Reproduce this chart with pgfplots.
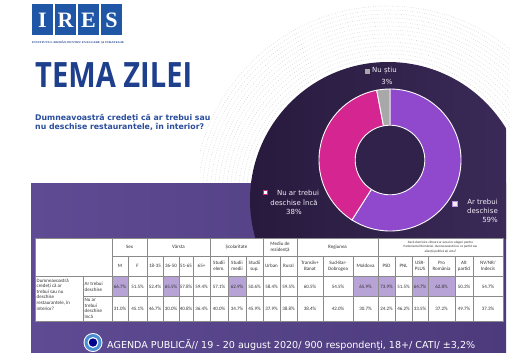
\documentclass[border=0pt]{standalone}
\usepackage{pgfplots}
\pgfplotsset{compat=1.18}
\usepackage{fontspec}
\setmainfont{Open Sans}
\newfontfamily\tabfont{Carlito}
\newfontfamily\logofont{Liberation Serif}
\newfontfamily\dvfont{DejaVu Sans}
\definecolor{iresblue}{HTML}{1F56A6}
\definecolor{titleblue}{HTML}{1E3F8C}
\definecolor{qblue}{HTML}{2A4D9C}
\definecolor{bandL}{HTML}{5E4B93}
\definecolor{bandR}{HTML}{4C3A7C}
\definecolor{darkL}{HTML}{271A3D}
\definecolor{darkR}{HTML}{3C2B5A}
\definecolor{sPurple}{HTML}{9048CC}
\definecolor{sMagenta}{HTML}{D42590}
\definecolor{sGray}{HTML}{A8A8A8}
\definecolor{hl}{HTML}{B8A3D7}
\definecolor{lbl}{HTML}{F2EEF8}
\definecolor{grid}{HTML}{8A8A8A}
\begin{document}
\begin{tikzpicture}
\begin{scope}[x=1pt,y=-1pt,yshift=360pt]
\fill[white] (0,0) rectangle (510,360);
% dotted background arcs
\begin{scope}
\clip (200,0) rectangle (510,183);
\foreach \r in {142,146,...,194}
  \draw[gray!35, line width=0.6pt, dash pattern=on 0.6pt off 1.8pt] (388,200) circle[radius=\r pt];
\end{scope}
% band
\shade[left color=bandL, right color=bandR] (31,183) rectangle (506,352);
% dark circle
\begin{scope}
\clip (0,0) rectangle (506,238);
\shade[left color=darkL, right color=darkR] (388,200) circle[radius=138pt];
\end{scope}
% logo
\foreach \x/\l in {32/I,55/R,78/E,101/S}{
  \fill[iresblue] (\x,4) rectangle (\x+21,35);
  \node[text=white, inner sep=0] at (\x+10.5,20) {\logofont\bfseries\fontsize{22}{22}\selectfont \l};
}
\node[anchor=west, inner sep=0, text=titleblue] at (32,42.5) {\resizebox{92pt}{2.4pt}{\logofont\bfseries INSTITUTUL ROMÂN PENTRU EVALUARE ȘI STRATEGIE}};
% title
\node[anchor=north west, inner sep=0, text=titleblue] at (35,62) {\resizebox{157pt}{25pt}{\bfseries TEMA ZILEI}};
\node[anchor=north west, inner sep=0, text=qblue, align=left, font=\dvfont\bfseries\fontsize{7.8}{9}\selectfont] at (35,114) {Dumneavoastră credeți că ar trebui sau\\nu deschise restaurantele, în interior?};
% table
\fill[white] (35,238) rectangle (503,321);
\begin{scope}[font=\tabfont\fontsize{5}{5.6}\selectfont, text=black!80, every node/.style={inner sep=0, align=center}]
% row 1
\foreach \a/\b/\v/\h in {112/128/66.7/1,128/147/51.5/0,147/163/52.4/0,163/179/65.5/1,179/193/57.8/0,193/210/59.4/0,210/228/57.1/0,228/246/62.9/1,246/263/50.6/0,263/280/58.4/0,280/297/59.5/0,297/323/60.5/0,323/353/54.5/0,353/378/65.9/1,378/395/73.9/1,395/412/51.5/0,412/428/64.7/1,428/455/62.8/1,455/473/50.3/0,473/503/54.7/0}{
  \ifnum\h=1 \fill[hl] (\a,276) rectangle (\b,296); \fi
  \node at ({(\a+\b)/2},286.5) {\v\%};
}
% row 2
\foreach \a/\b/\v in {112/128/31.0,128/147/45.1,147/163/46.7,163/179/30.0,179/193/40.8,193/210/36.4,210/228/40.0,228/246/34.7,246/263/45.9,263/280/37.9,280/297/38.8,297/323/38.4,323/353/42.0,353/378/30.7,378/395/24.2,395/412/46.2,412/428/33.5,428/455/37.2,455/473/49.7,473/503/37.3}{
  \node at ({(\a+\b)/2},308.5) {\v\%};
}
% header row 2
\foreach \a/\b/\t in {112/128/M,128/147/F,147/163/18-35,163/179/36-50,179/193/51-65,193/210/65+,210/228/{Studii\\elem.},228/246/{Studii\\medii},246/263/{Studii\\sup.},263/280/Urban,280/297/Rural,297/323/{Transilv+\\Banat},323/353/{Sud-Bar-\\Dobrogea},353/378/Moldova,378/395/PSD,395/412/PNL,412/428/{USR-\\PLUS},428/455/{Pro\\România},455/473/{Alt\\partid},473/503/{NV/NR/\\Indecis}}{
  \node at ({(\a+\b)/2},266) {\t};
}
% header row 1
\node at (129.5,247) {Sex};
\node at (178.5,247) {Vârsta};
\node at (236.5,247) {Școlaritate};
\node at (280,247) {Mediu de\\rezidență};
\node at (337.5,247) {Regiunea};
\node[font=\tabfont\fontsize{3.3}{4.2}\selectfont] at (440.5,247) {Dacă duminica viitoare ar avea loc alegeri pentru\\Parlamentul României, dumneavoastră cu ce partid sau\\alianță politică ați vota?};
% row labels
\node[anchor=north west, align=left] at (36.5,278.5) {Dumneavoastră\\credeți că ar\\trebui sau nu\\deschise\\restaurantele, în\\interior?};
\node[anchor=west, align=left] at (84.5,286.5) {Ar trebui\\deschise};
\node[anchor=west, align=left] at (84.5,308.5) {Nu ar\\trebui\\deschise\\încă};
\end{scope}
% grid
\begin{scope}[draw=grid, line width=0.35pt]
\draw (35,238) rectangle (503,321);
\draw (112,256) -- (503,256);
\draw (35,276) -- (503,276);
\draw (83,296) -- (503,296);
\draw (83,276) -- (83,321);
\foreach \x in {112,147,210,263,297,378} \draw (\x,238) -- (\x,321);
\foreach \x in {128,163,179,193,228,246,280,323,353,395,412,428,455,473} \draw (\x,256) -- (\x,321);
\end{scope}
% footer
\fill[white] (93,342.5) circle[radius=9.5pt];
\fill[cyan!55!blue!75] (93,342.5) circle[radius=8.5pt];
\fill[white] (93,342.5) circle[radius=5.5pt];
\fill[blue!55!black] (93,342.5) circle[radius=4.2pt];
\node[anchor=west, inner sep=0, text=white] at (107,344.5) {\resizebox{368pt}{!}{\dvfont AGENDA PUBLICĂ// 19 - 20 august 2020/ 900 respondenţi, 18+/ CATI/ ±3,2\%}};
\end{scope}

\begin{axis}[at={(390pt,200pt)}, anchor=center, scale only axis, width=142pt, height=142pt,
  xmin=-1, xmax=1, ymin=-1, ymax=1, hide axis, clip=false]
\addplot[draw=white, line width=0.9pt, fill=sPurple, domain=-122.4:90, samples=100, variable=\t] ({cos(\t)},{sin(\t)}) -- (0,0) -- cycle;
\addplot[draw=white, line width=0.9pt, fill=sMagenta, domain=100.8:237.6, samples=70, variable=\t] ({cos(\t)},{sin(\t)}) -- (0,0) -- cycle;
\addplot[draw=white, line width=0.9pt, fill=sGray, domain=90:100.8, samples=10, variable=\t] ({cos(\t)},{sin(\t)}) -- (0,0) -- cycle;
\addplot[draw=white, line width=0.9pt, fill=darkL!55!darkR, domain=0:360, samples=100, variable=\t] ({0.49*cos(\t)},{0.49*sin(\t)}) -- cycle;
\end{axis}

\begin{scope}[x=1pt,y=-1pt,yshift=360pt, every node/.style={inner sep=0, text=lbl, font=\dvfont\fontsize{7}{9.2}\selectfont}]
\fill[sGray] (364.5,68.5) rectangle (369.5,73.5);
\node[anchor=west] at (372,71) {Nu știu};
\node at (387,81.5) {3\%};
\draw[sMagenta, fill=white, line width=0.6pt] (263,190) rectangle (267.5,194.5);
\node[align=center] at (294,202.5) {\hspace*{8pt}Nu ar trebui\\deschise încă\\38\%};
\draw[sPurple!60!white, fill=lbl, line width=0.6pt] (452.5,201.5) rectangle (457,206);
\node[anchor=north east, align=right] at (498,199) {Ar trebui\\deschise\\59\%};
\end{scope}
\end{tikzpicture}
\end{document}
